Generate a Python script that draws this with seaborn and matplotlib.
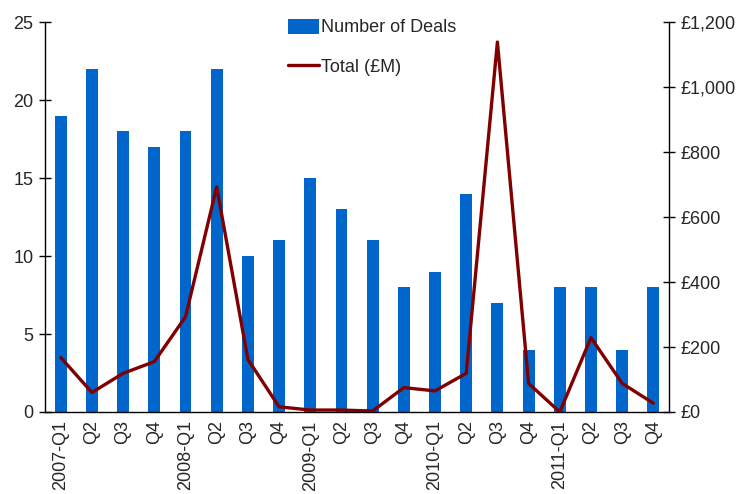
import matplotlib
matplotlib.use("Agg")
import matplotlib.pyplot as plt
import seaborn as sns
import pandas as pd
import numpy as np
from matplotlib.ticker import FuncFormatter, FixedLocator, NullFormatter
from matplotlib.lines import Line2D
from matplotlib.patches import Patch

quarters = ["2007-Q1", "Q2", "Q3", "Q4",
            "2008-Q1", "Q2", "Q3", "Q4",
            "2009-Q1", "Q2", "Q3", "Q4",
            "2010-Q1", "Q2", "Q3", "Q4",
            "2011-Q1", "Q2", "Q3", "Q4"]
deals = [19, 22, 18, 17, 18, 22, 10, 11, 15, 13, 11, 8, 9, 14, 7, 4, 8, 8, 4, 8]
total_gbp_m = [168, 60, 119, 155, 293, 693, 162, 16, 6, 6, 3, 75,
               65, 119, 1139, 88, 0, 229, 88, 27]

bar_color = "#0066CC"
line_color = "#800000"

sns.set_theme(style="white")
plt.rcParams["font.family"] = ["Liberation Sans", "DejaVu Sans"]
plt.rcParams["font.size"] = 13

df = pd.DataFrame({"pos": np.arange(len(quarters)),
                   "deals": deals, "total": total_gbp_m})

fig = plt.figure(figsize=(7.4, 4.94), dpi=100)
ax = fig.add_axes([0.061, 0.166, 0.843, 0.789])

sns.barplot(data=df, x="pos", y="deals", color=bar_color, width=0.38,
            saturation=1, linewidth=0, ax=ax, native_scale=True)
ax.set_xlim(-0.5, len(quarters) - 0.5)
ax.set_ylim(0, 25)
ax.set_yticks([0, 5, 10, 15, 20, 25])
ax.set_xlabel("")
ax.set_ylabel("")

# tick marks sit on category boundaries, labels on category centres
ax.xaxis.set_major_locator(FixedLocator(np.arange(-0.5, len(quarters), 1.0)))
ax.xaxis.set_major_formatter(NullFormatter())
ax.xaxis.set_minor_locator(FixedLocator(np.arange(len(quarters))))
ax.set_xticklabels(quarters, minor=True, rotation=90)
ax.tick_params(axis="x", which="minor", length=0, pad=6, labelsize=13)
ax.tick_params(axis="x", which="major", direction="inout", length=9, width=1, color="black")
ax.tick_params(axis="y", direction="inout", length=9, width=1, color="black", labelsize=13, pad=4)

ax2 = ax.twinx()
sns.lineplot(data=df, x="pos", y="total", color=line_color, linewidth=2.4, ax=ax2)
ax2.set_ylim(0, 1200)
ax2.set_yticks(range(0, 1201, 200))
ax2.yaxis.set_major_formatter(FuncFormatter(lambda v, p: f"£{int(v):,}"))
ax2.set_ylabel("")
ax2.set_xlabel("")
ax2.tick_params(axis="y", direction="inout", length=9, width=1, color="black", labelsize=13, pad=4)

for a in (ax, ax2):
    a.spines["top"].set_visible(False)
    for s in ("left", "right", "bottom"):
        a.spines[s].set_color("black")
        a.spines[s].set_linewidth(1)
ax.spines["right"].set_visible(False)
ax2.spines["left"].set_visible(False)
ax2.spines["bottom"].set_visible(False)
ax2.grid(False)
ax.grid(False)

handles = [Patch(facecolor=bar_color, edgecolor="none"),
           Line2D([0], [0], color=line_color, linewidth=2.4)]
fig.legend(handles, ["Number of Deals", "Total (£M)"], frameon=False,
           loc="upper left", bbox_to_anchor=(0.367, 0.995),
           handlelength=1.7, handleheight=0.9, handletextpad=0.15,
           labelspacing=1.2, fontsize=13)

fig.savefig("out.png", dpi=100)
